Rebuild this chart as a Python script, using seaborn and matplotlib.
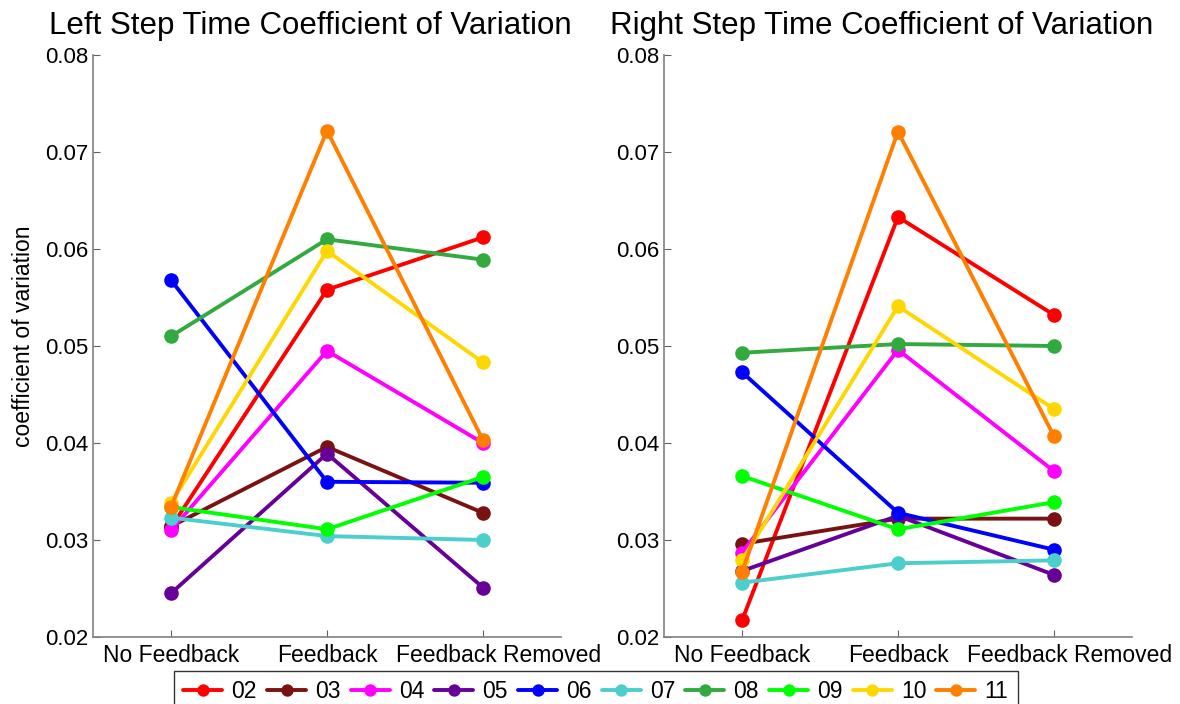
import numpy as np
import pandas as pd
import matplotlib
matplotlib.use("Agg")
import matplotlib.pyplot as plt
import matplotlib.transforms as mtransforms
import seaborn as sns

conditions = ["No Feedback", "Feedback", "Feedback Removed"]
subjects = ["02", "03", "04", "05", "06", "07", "08", "09", "10", "11"]

left_cv = {
    "02": [0.0313, 0.0558, 0.0612],
    "03": [0.0314, 0.0396, 0.0328],
    "04": [0.0310, 0.0495, 0.0400],
    "05": [0.0245, 0.0389, 0.0251],
    "06": [0.0568, 0.0360, 0.0359],
    "07": [0.0323, 0.0304, 0.0300],
    "08": [0.0510, 0.0610, 0.0589],
    "09": [0.0334, 0.0311, 0.0365],
    "10": [0.0338, 0.0598, 0.0483],
    "11": [0.0334, 0.0722, 0.0403],
}
right_cv = {
    "02": [0.0217, 0.0633, 0.0532],
    "03": [0.0296, 0.0322, 0.0322],
    "04": [0.0287, 0.0496, 0.0371],
    "05": [0.0268, 0.0325, 0.0264],
    "06": [0.0473, 0.0328, 0.0290],
    "07": [0.0256, 0.0276, 0.0279],
    "08": [0.0493, 0.0502, 0.0500],
    "09": [0.0366, 0.0311, 0.0339],
    "10": [0.0279, 0.0541, 0.0435],
    "11": [0.0267, 0.0721, 0.0407],
}
colors = ["#FF0000", "#7A1212", "#FF00FF", "#660099", "#0000FF",
          "#4CCFCC", "#33AA3F", "#00FF00", "#FFD700", "#FF8000"]

sns.set_style("white")
plt.rcParams["font.family"] = ["Liberation Sans", "DejaVu Sans"]
plt.rcParams["text.color"] = "black"
plt.rcParams["axes.labelcolor"] = "black"

def to_long(d):
    rows = []
    for s in subjects:
        for i, v in enumerate(d[s]):
            rows.append({"subject": s, "cond": i + 1, "cv": v})
    return pd.DataFrame(rows)

fig = plt.figure(figsize=(11.8, 7.04), dpi=100)
ax1 = fig.add_axes([0.0788, 0.0952, 0.3966, 0.8267])
ax2 = fig.add_axes([0.5627, 0.0952, 0.3966, 0.8267])
palette = dict(zip(subjects, colors))

for ax, d, title in [(ax1, left_cv, "Left Step Time Coefficient of Variation"),
                     (ax2, right_cv, "Right Step Time Coefficient of Variation")]:
    df = to_long(d)
    sns.lineplot(data=df, x="cond", y="cv", hue="subject", palette=palette,
                 hue_order=subjects, marker="o", markersize=10.5,
                 markeredgewidth=0, linewidth=2.8, sort=False, ax=ax,
                 legend=True)
    ax.set_xlim(0.5, 3.5)
    ax.set_ylim(0.02, 0.08)
    ax.set_xticks([1, 2, 3])
    ax.set_xticklabels(conditions)
    ax.set_yticks([0.02, 0.03, 0.04, 0.05, 0.06, 0.07, 0.08])
    ax.set_yticklabels(["0.02", "0.03", "0.04", "0.05", "0.06", "0.07", "0.08"])
    ax.set_xlabel("")
    ax.set_ylabel("")
    ax.set_title(title, fontsize=22.5, pad=15, x=0.464, color="black")
    for sp in ["top", "right"]:
        ax.spines[sp].set_visible(False)
    for sp in ["left", "bottom"]:
        ax.spines[sp].set_color("#808080")
        ax.spines[sp].set_linewidth(1.2)
    ax.tick_params(axis="both", direction="in", length=5, color="#606060",
                   labelcolor="black", width=0.8, left=True, bottom=True)
    ax.tick_params(axis="y", labelsize=16, pad=3.5)
    ax.tick_params(axis="x", labelsize=16.5, pad=5)
    # shift the last category label right, as in the reference
    lbl = ax.get_xticklabels()[2]
    lbl.set_transform(lbl.get_transform() +
                      mtransforms.ScaledTranslation(16 / 100, 0, fig.dpi_scale_trans))
    ax.get_legend().remove()

ax1.set_ylabel("coefficient of variation", fontsize=16.5, color="black")
ax1.yaxis.set_label_coords(-0.124, 0.517)

handles, labels = ax1.get_legend_handles_labels()
leg = fig.legend(handles, labels, loc="lower center", ncol=10,
                 bbox_to_anchor=(0.505, -0.012), fontsize=16.5, frameon=True,
                 fancybox=False, edgecolor="black", handlelength=1.7,
                 handletextpad=0.4, columnspacing=0.44, borderpad=0.4,
                 borderaxespad=0.0, markerscale=0.85)
leg.get_frame().set_linewidth(1.0)
for t in leg.get_texts():
    t.set_color("black")

fig.savefig("out.png", dpi=100)
